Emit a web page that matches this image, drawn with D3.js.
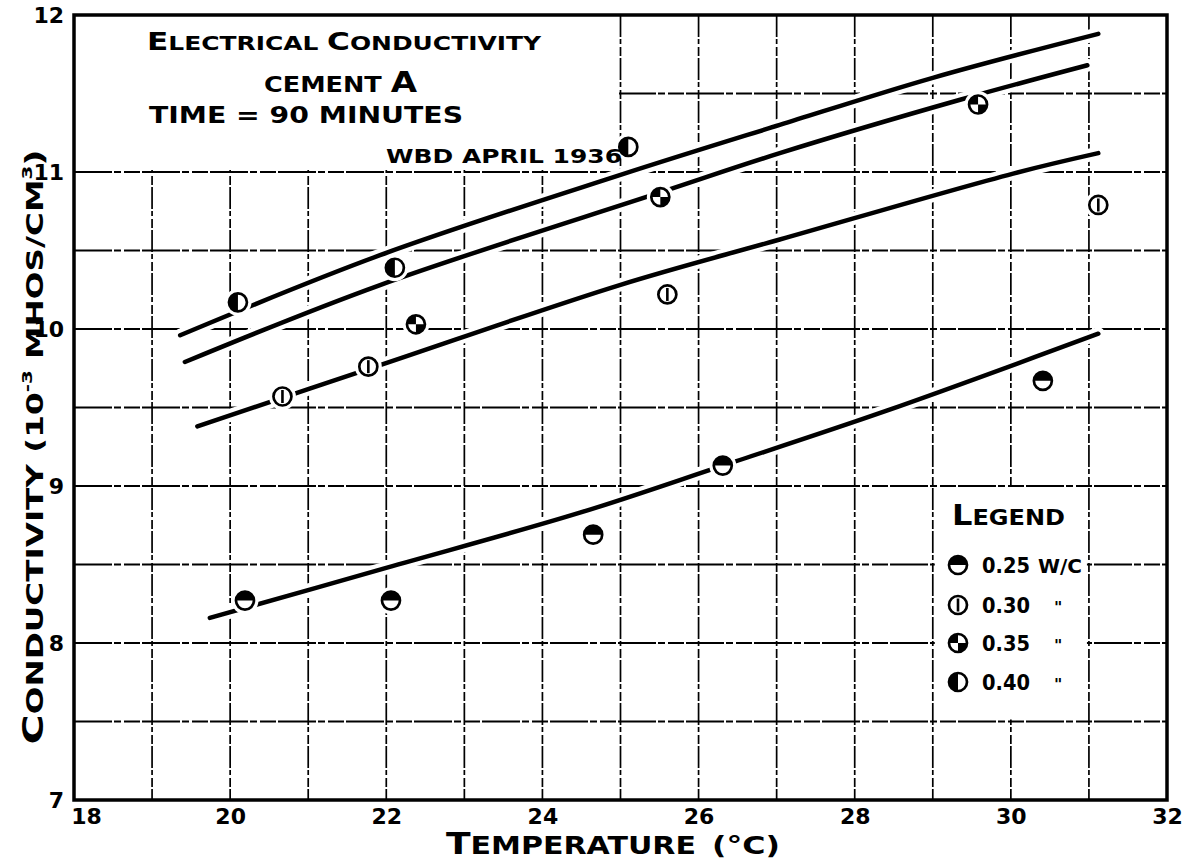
<!DOCTYPE html>
<html>
<head>
<meta charset="utf-8">
<script src="https://cdn.jsdelivr.net/npm/d3@7"></script>
<style>
  body { margin: 0; background: #fff; }
  svg { display: block; }
  text { font-family: "DejaVu Sans", sans-serif; font-weight: bold; fill: #000; }
</style>
</head>
<body>
<svg id="chart" width="1197" height="863"></svg>
<script>
// ---- axis ticks and grid -------------------------------------------------
const xTicks = [18, 20, 22, 24, 26, 28, 30, 32];
const yTicks = [7, 8, 9, 10, 11, 12];
const xGrid = [19, 20, 21, 22, 23, 24, 25, 26, 27, 28, 29, 30, 31];
const yGrid = [7.5, 8, 8.5, 9, 9.5, 10, 10.5, 11, 11.5];

// ---- measured points, temperature (°C) vs conductivity (10^-3 mhos/cm^3) --
const wc025Temp = [20.19, 22.06, 24.65, 26.31, 30.41];
const wc025Cond = [8.27, 8.27, 8.69, 9.13, 9.67];
const wc030Temp = [20.67, 21.77, 25.60, 31.12];
const wc030Cond = [9.57, 9.76, 10.22, 10.79];
const wc035Temp = [22.38, 25.51, 29.58];
const wc035Cond = [10.03, 10.84, 11.43];
const wc040Temp = [20.10, 22.11, 25.10];
const wc040Cond = [10.17, 10.39, 11.16];

// ---- hand-faired curves --------------------------------------------------
const curve040Temp = [19.36, 21.92, 24.99, 27.04, 29.00, 31.12];
const curve040Cond = [9.96, 10.47, 10.98, 11.30, 11.60, 11.88];
const curve035Temp = [19.42, 21.92, 25.51, 27.04, 29.35, 30.98];
const curve035Cond = [9.79, 10.28, 10.87, 11.12, 11.46, 11.68];
const curve030Temp = [19.58, 21.92, 24.99, 27.04, 30.03, 31.12];
const curve030Cond = [9.38, 9.77, 10.28, 10.57, 10.99, 11.12];
const curve025Temp = [19.74, 22.01, 24.48, 26.31, 28.41, 31.12];
const curve025Cond = [8.16, 8.48, 8.83, 9.13, 9.48, 9.97];

// ---- legend --------------------------------------------------------------
const legendLabels = ["0.25", "0.30", "0.35", "0.40"];
const legendSuffix = ["W/C", "\"", "\"", "\""];
const legendKinds  = ["top", "bar", "quarter", "left"];

const svg = d3.select("#chart");
const x = d3.scaleLinear().domain([18, 32]).range([74, 1167]);
const y = d3.scaleLinear().domain([7, 12]).range([800, 15]);

// ---- grid ----------------------------------------------------------------
const grid = svg.append("g");
grid.selectAll("line.v").data(xGrid).join("line")
  .attr("x1", d => x(d)).attr("x2", d => x(d))
  .attr("y1", y(12)).attr("y2", y(7))
  .attr("stroke", "#000").attr("stroke-width", 1.7)
  .attr("stroke-dasharray", "22,2,5,3,9,2");
grid.selectAll("line.h").data(yGrid).join("line")
  .attr("x1", x(18)).attr("x2", x(32))
  .attr("y1", d => y(d)).attr("y2", d => y(d))
  .attr("stroke", "#000").attr("stroke-width", 2)
  .attr("stroke-dasharray", "38,2,7,3,16,2");

// blank panels for the title block and the legend
svg.append("rect").attr("x", x(18) + 1).attr("y", y(12) + 1)
  .attr("width", 618 - x(18)).attr("height", y(11) - y(12) - 3).attr("fill", "#fff");
svg.append("rect").attr("x", x(29) + 2).attr("y", y(9) + 2)
  .attr("width", x(31) - x(29) - 4).attr("height", y(7.5) - y(9) - 4).attr("fill", "#fff");

// ---- frame ---------------------------------------------------------------
svg.append("rect")
  .attr("x", x(18)).attr("y", y(12))
  .attr("width", x(32) - x(18)).attr("height", y(7) - y(12))
  .attr("fill", "none").attr("stroke", "#000").attr("stroke-width", 3.5);

// ---- axes ----------------------------------------------------------------
const xAxis = svg.append("g").attr("transform", `translate(0,${y(7)})`)
  .call(d3.axisBottom(x).tickValues(xTicks).tickSize(0).tickPadding(8).tickFormat(d3.format("d")));
const yAxis = svg.append("g").attr("transform", `translate(${x(18)},0)`)
  .call(d3.axisLeft(y).tickValues(yTicks).tickSize(0).tickPadding(10).tickFormat(d3.format("d")));
[xAxis, yAxis].forEach(g => {
  g.select(".domain").remove();
  g.selectAll("text").style("font-family", "'DejaVu Sans', sans-serif")
    .style("font-weight", "bold").style("font-size", "22px").attr("fill", "#000");
});
xAxis.selectAll(".tick").filter(d => d === 18).select("text").attr("dx", 12);

// ---- curves --------------------------------------------------------------
const line = d3.line().x(d => x(d[0])).y(d => y(d[1])).curve(d3.curveCatmullRom.alpha(0.5));
const curves = [
  d3.zip(curve040Temp, curve040Cond),
  d3.zip(curve035Temp, curve035Cond),
  d3.zip(curve030Temp, curve030Cond),
  d3.zip(curve025Temp, curve025Cond)
];
svg.append("g").selectAll("path").data(curves).join("path")
  .attr("d", line).attr("fill", "none").attr("stroke", "#fff")
  .attr("stroke-width", 13).attr("stroke-linecap", "round");
svg.append("g").selectAll("path").data(curves).join("path")
  .attr("d", line).attr("fill", "none").attr("stroke", "#000")
  .attr("stroke-width", 4.5).attr("stroke-linecap", "round");

// ---- markers -------------------------------------------------------------
const R = 9;
const arc = d3.arc().innerRadius(0).outerRadius(R);
function drawMarker(g, kind) {
  g.append("circle").attr("r", R).attr("fill", "#fff");
  const fills = {
    top: [[-Math.PI / 2, Math.PI / 2]],
    left: [[Math.PI, 2 * Math.PI]],
    quarter: [[-Math.PI / 2, 0], [Math.PI / 2, Math.PI]],
    bar: []
  }[kind];
  fills.forEach(([a0, a1]) => g.append("path").attr("d", arc({ startAngle: a0, endAngle: a1 })).attr("fill", "#000"));
  if (kind === "bar") {
    g.append("line").attr("x1", 0).attr("x2", 0).attr("y1", -6.5).attr("y2", 6.5)
      .attr("stroke", "#000").attr("stroke-width", 2.6);
  }
  g.append("circle").attr("r", R).attr("fill", "none").attr("stroke", "#000").attr("stroke-width", 2.7);
}

const pointSets = [
  { kind: "top", pts: d3.zip(wc025Temp, wc025Cond) },
  { kind: "bar", pts: d3.zip(wc030Temp, wc030Cond) },
  { kind: "quarter", pts: d3.zip(wc035Temp, wc035Cond) },
  { kind: "left", pts: d3.zip(wc040Temp, wc040Cond) }
];
const allPts = pointSets.flatMap(s => s.pts);
svg.append("g").selectAll("circle").data(allPts).join("circle")
  .attr("cx", d => x(d[0])).attr("cy", d => y(d[1])).attr("r", 13.5).attr("fill", "#fff");
pointSets.forEach(s => {
  s.pts.forEach(p => {
    const g = svg.append("g").attr("transform", `translate(${x(p[0])},${y(p[1])})`);
    drawMarker(g, s.kind);
  });
});

// ---- title block ---------------------------------------------------------
function smallCaps(parent, parts) {
  parts.forEach(([t, size, dy]) => {
    const ts = parent.append("tspan").attr("font-size", size).text(t);
    if (dy) ts.attr("dy", dy);
  });
}
const t1 = svg.append("text").attr("x", 147).attr("y", 50)
  .attr("textLength", 394).attr("lengthAdjust", "spacingAndGlyphs");
smallCaps(t1, [["E", 25], ["LECTRICAL ", 20], ["C", 25], ["ONDUCTIVITY", 20]]);

const t2 = svg.append("text").attr("x", 264).attr("y", 92)
  .attr("textLength", 153).attr("lengthAdjust", "spacingAndGlyphs");
smallCaps(t2, [["CEMENT ", 21], ["A", 28]]);

svg.append("text").attr("x", 149).attr("y", 123).attr("font-size", 23)
  .attr("textLength", 314).attr("lengthAdjust", "spacingAndGlyphs")
  .text("TIME =  90 MINUTES");

svg.append("text").attr("x", 386).attr("y", 163).attr("font-size", 19)
  .attr("textLength", 236).attr("lengthAdjust", "spacingAndGlyphs")
  .text("WBD APRIL 1936");

// ---- axis titles ---------------------------------------------------------
const xt = svg.append("text").attr("x", 446).attr("y", 854)
  .attr("textLength", 250).attr("lengthAdjust", "spacingAndGlyphs");
smallCaps(xt, [["T", 30], ["EMPERATURE", 25]]);
svg.append("text").attr("x", 712).attr("y", 854).attr("font-size", 25)
  .attr("textLength", 68).attr("lengthAdjust", "spacingAndGlyphs").text("(°C)");

const yt = svg.append("text").attr("transform", "translate(43,447) rotate(-90)")
  .attr("text-anchor", "middle")
  .attr("textLength", 595).attr("lengthAdjust", "spacingAndGlyphs");
smallCaps(yt, [["C", 29], ["ONDUCTIVITY  (10", 23], ["-3", 14, -11], [" MHOS/CM", 23, 11], ["3", 14, -11], [")", 25, 11]]);

// ---- legend --------------------------------------------------------------
const lg = svg.append("text").attr("x", 952).attr("y", 525)
  .attr("textLength", 113).attr("lengthAdjust", "spacingAndGlyphs");
smallCaps(lg, [["L", 28], ["EGEND", 21]]);
const legendY = [565, 605, 643, 682];
legendLabels.forEach((lab, i) => {
  const g = svg.append("g").attr("transform", `translate(958,${legendY[i]})`);
  drawMarker(g, legendKinds[i]);
  svg.append("text").attr("x", 982).attr("y", legendY[i] + 8).attr("font-size", 21)
    .attr("textLength", 48).attr("lengthAdjust", "spacingAndGlyphs").text(lab);
  svg.append("text").attr("x", i === 0 ? 1038 : 1054).attr("y", legendY[i] + 8)
    .attr("font-size", i === 0 ? 20 : 16).text(legendSuffix[i]);
});
</script>
</body>
</html>
